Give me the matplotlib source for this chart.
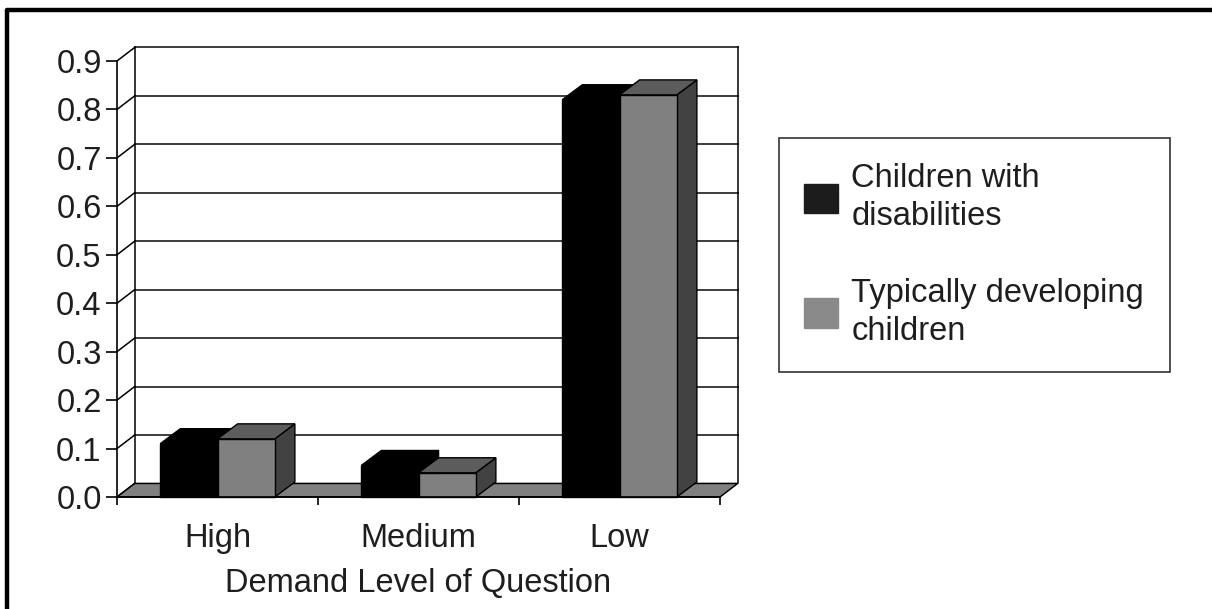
import matplotlib
matplotlib.use('Agg')
import matplotlib.pyplot as plt
from matplotlib.patches import Polygon, Patch
from matplotlib.lines import Line2D
import numpy as np

# share of questions answered, by demand level
categories = ['High', 'Medium', 'Low']
disabilities = [0.11, 0.065, 0.82]
typical = [0.12, 0.05, 0.83]
series_names = ['Children with\ndisabilities', 'Typically developing\nchildren']
yticks = [0.0, 0.1, 0.2, 0.3, 0.4, 0.5, 0.6, 0.7, 0.8, 0.9]

plt.rcParams['font.family'] = ['Liberation Sans', 'DejaVu Sans']
txt = '#1e1e1e'
fs = 23.5

W, H = 1212, 609
fig = plt.figure(figsize=(W / 100, H / 100), dpi=100)
ax = fig.add_axes([117 / W, 112 / H, 603 / W, 436 / H])
ax.set_xlim(0, 3)
ax.set_ylim(0, 0.9)

# fake 3d depth (data units) for the wall/floor and for the bars
wx, wy = 0.088, 0.028
bx, by = 0.1, 0.031

# back wall: gridlines, edges and the little slanted lines at each tick
for t in yticks[1:]:
    ax.plot([wx, 3 + wx], [t + wy, t + wy], color='#3c3c3c', lw=1.4, clip_on=False, zorder=1)
for t in yticks:
    ax.plot([0, wx], [t, t + wy], color='black', lw=1.1, clip_on=False, zorder=1)
ax.plot([wx, wx], [wy, 0.9 + wy], color='black', lw=1.1, clip_on=False, zorder=1)
ax.plot([3 + wx, 3 + wx], [wy, 0.9 + wy], color='black', lw=1.1, clip_on=False, zorder=1)

# floor
ax.add_patch(Polygon([(0, 0), (3, 0), (3 + wx, wy), (wx, wy)], closed=True,
                     fc='#808080', ec='black', lw=1.1, clip_on=False, zorder=2))


def bar3d(x0, x1, h, front, top, side):
    pts_side = [(x1, 0), (x1 + bx, by), (x1 + bx, h + by), (x1, h)]
    pts_top = [(x0, h), (x1, h), (x1 + bx, h + by), (x0 + bx, h + by)]
    pts_front = [(x0, 0), (x1, 0), (x1, h), (x0, h)]
    for pts, c in ((pts_side, side), (pts_top, top), (pts_front, front)):
        ax.add_patch(Polygon(pts, closed=True, fc=c, ec='black', lw=1.0,
                             clip_on=False, zorder=3))


bw = 0.285
for i in range(len(categories)):
    c = i + 0.5
    bar3d(c - bw, c, disabilities[i], 'black', 'black', 'black')
    bar3d(c, c + bw, typical[i], '#808080', '#5c5c5c', '#424242')

# axes
for s in ['top', 'right']:
    ax.spines[s].set_visible(False)
for s in ['left', 'bottom']:
    ax.spines[s].set_color('black')
    ax.spines[s].set_linewidth(1.2)
    ax.spines[s].set_zorder(4)

ax.set_yticks(yticks)
ax.set_yticklabels(['%.1f' % t for t in yticks])
ax.set_xticks([0, 1, 2, 3])
ax.set_xticklabels([])
ax.set_xticks([0.5, 1.5, 2.5], minor=True)
ax.set_xticklabels(categories, minor=True)
ax.tick_params(axis='y', length=8, width=1.2, pad=3, labelsize=fs, labelcolor=txt)
ax.tick_params(axis='x', which='major', length=6, width=1.2)
ax.tick_params(axis='x', which='minor', length=0, pad=19, labelsize=fs, labelcolor=txt)
ax.set_xlabel('Demand Level of Question', fontsize=fs, color=txt, labelpad=10)
ax.patch.set_visible(False)

handles = [Patch(fc='#1c1c1c', ec='#1c1c1c'), Patch(fc='#8a8a8a', ec='#8a8a8a')]
leg = fig.legend(handles, series_names, loc='upper left', bbox_to_anchor=(779 / W, 1 - 138 / H),
                 fontsize=fs, frameon=True, fancybox=False, edgecolor='black',
                 handlelength=1.04, handleheight=1.0, handletextpad=0.4,
                 borderpad=0.78, labelspacing=1.4, borderaxespad=0)
leg.get_frame().set_linewidth(1.2)
for t in leg.get_texts():
    t.set_color(txt)
    t.set_linespacing(1.28)

# heavy frame along the left and top edges
fig.add_artist(Line2D([7 / W, 7 / W, 1], [0, 1 - 10 / H, 1 - 10 / H], color='black',
                      lw=3.2, transform=fig.transFigure))

fig.savefig('out.png', dpi=100)
